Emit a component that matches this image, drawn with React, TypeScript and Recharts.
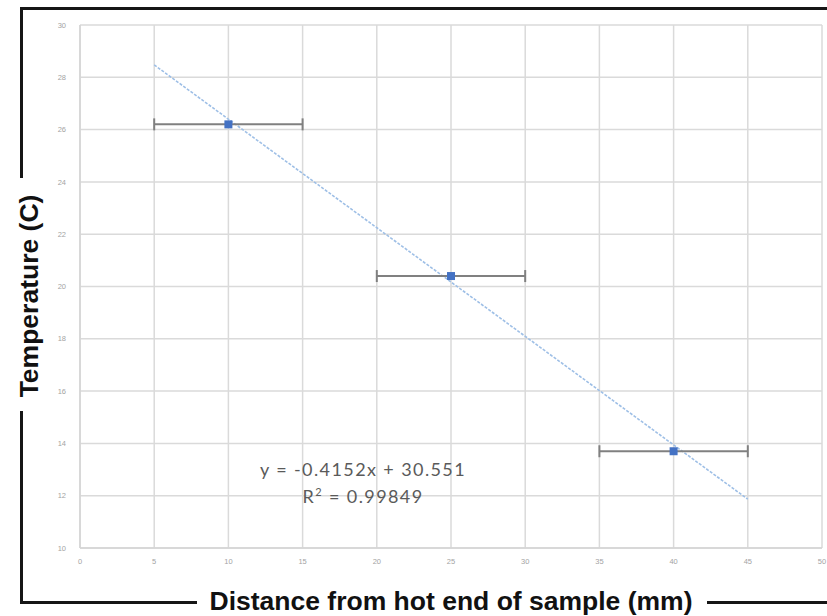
import { ScatterChart, Scatter, XAxis, YAxis, ZAxis, CartesianGrid, ErrorBar, ReferenceLine } from 'recharts';

// measured points (distance mm, temperature C) with +/- 5 mm position uncertainty
const distances = [10, 25, 40];
const temperatures = [26.2, 20.4, 13.7];
const distanceErrors = [5, 5, 5];

const xTicks = [0, 5, 10, 15, 20, 25, 30, 35, 40, 45, 50];
const yTicks = [10, 12, 14, 16, 18, 20, 22, 24, 26, 28, 30];

// linear trendline from the spreadsheet
const slope = -0.4152;
const intercept = 30.551;
const rSquared = 0.99849;
const fitFrom = 5;
const fitTo = 45;

const points = distances.map((d, i) => ({ x: d, y: temperatures[i], xErr: distanceErrors[i] }));

const frame = '#161616';

export default function App() {
  const tickStyle = { fontSize: 7.5, fill: '#a3a3a3', fontFamily: 'Liberation Sans, Arial, sans-serif' };

  return (
    <div style={{ position: 'absolute', left: 0, top: 0, width: 827, height: 616, background: '#fff', overflow: 'hidden' }}>
      <ScatterChart width={827} height={616} margin={{ top: 25, right: 5, bottom: 48, left: 50 }}>
        <CartesianGrid stroke="#dadada" strokeWidth={1.5} />
        <XAxis
          type="number"
          dataKey="x"
          domain={[0, 50]}
          ticks={xTicks}
          height={20}
          tickLine={false}
          axisLine={{ stroke: '#d4d4d4', strokeWidth: 1.5 }}
          tickMargin={5}
          tick={tickStyle}
          interval={0}
        />
        <YAxis
          type="number"
          dataKey="y"
          domain={[10, 30]}
          ticks={yTicks}
          width={30}
          tickLine={false}
          axisLine={{ stroke: '#d4d4d4', strokeWidth: 1.5 }}
          tickMargin={8}
          tick={tickStyle}
          interval={0}
        />
        <ZAxis range={[36, 36]} />
        <ReferenceLine
          segment={[
            { x: fitFrom, y: slope * fitFrom + intercept },
            { x: fitTo, y: slope * fitTo + intercept },
          ]}
          stroke="#9ebfe6"
          strokeWidth={1.6}
          strokeDasharray="3 1.5"
          ifOverflow="visible"
        />
        <Scatter data={points} fill="#4472c4" shape="square" isAnimationActive={false}>
          <ErrorBar dataKey="xErr" direction="x" width={6} stroke="#808080" strokeWidth={2} isAnimationActive={false} />
        </Scatter>
      </ScatterChart>

      {/* trendline equation */}
      <div style={{ position: 'absolute', left: 213, top: 456, width: 300, textAlign: 'center', fontFamily: 'Lato, sans-serif', fontSize: 18, color: '#5a5a5a', lineHeight: '27px', letterSpacing: 1.4 }}>
        <div>y = {slope}x + {intercept}</div>
        <div>R<sup style={{ fontSize: 11, lineHeight: 0 }}>2</sup> = {rSquared}</div>
      </div>

      {/* outer frame with inset titles */}
      <div style={{ position: 'absolute', left: 20, top: 7, width: 807, height: 3, background: frame }} />
      <div style={{ position: 'absolute', left: 20, top: 7, width: 3, height: 171, background: frame }} />
      <div style={{ position: 'absolute', left: 20, top: 411, width: 3, height: 193, background: frame }} />
      <div style={{ position: 'absolute', left: 20, top: 601, width: 177, height: 3, background: frame }} />
      <div style={{ position: 'absolute', left: 707, top: 601, width: 120, height: 3, background: frame }} />

      <div style={{ position: 'absolute', left: 451, top: 601, transform: 'translate(-50%, -50%)', whiteSpace: 'nowrap', fontFamily: 'Liberation Sans, Arial, sans-serif', fontWeight: 700, fontSize: 26.5, lineHeight: 1, color: '#111' }}>
        Distance from hot end of sample (mm)
      </div>
      <div style={{ position: 'absolute', left: 29, top: 296, transform: 'translate(-50%, -50%) rotate(-90deg)', whiteSpace: 'nowrap', fontFamily: 'Liberation Sans, Arial, sans-serif', fontWeight: 700, fontSize: 26.5, lineHeight: 1, color: '#111' }}>
        Temperature (C)
      </div>
    </div>
  );
}
